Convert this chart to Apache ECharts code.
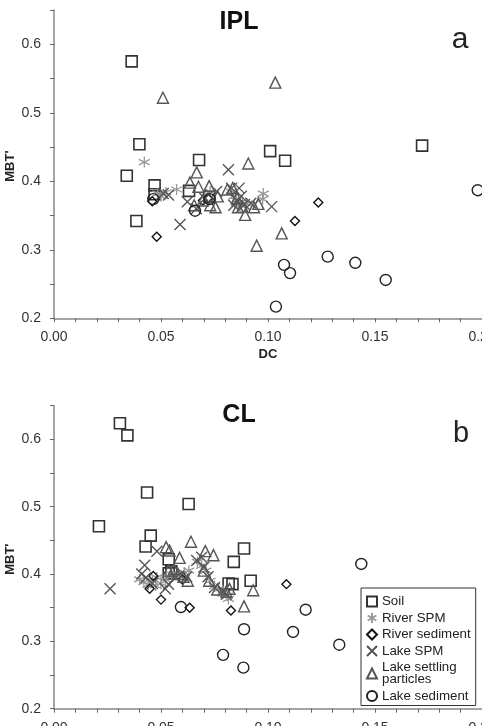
<!DOCTYPE html>
<html><head><meta charset="utf-8">
<script src="https://cdn.jsdelivr.net/npm/echarts@6/dist/echarts.min.js"></script>
<style>html,body{margin:0;padding:0;background:#fff}#c{width:482px;height:726px}</style>
</head><body><div id="c"></div>
<script>
// ---------- data ----------
const seriesNames = ['Soil', 'River SPM', 'River sediment', 'Lake SPM', 'Lake settling\nparticles', 'Lake sediment'];
const panelTitles = ['IPL', 'CL'];
const panelLetters = ['a', 'b'];
const xName = 'DC';
const yName = "MBT'";

// Panel a (IPL): [DC, MBT']
const soilA = [[0.0363,0.575],[0.0399,0.454],[0.034,0.408],[0.0385,0.342],[0.047,0.394],[0.047,0.381],[0.0631,0.386],[0.0678,0.431],[0.0726,0.378],[0.101,0.444],[0.108,0.430],[0.172,0.452]];
const riverSpmA = [[0.0422,0.428],[0.0573,0.388],[0.0978,0.382],[0.0975,0.374],[0.0523,0.384],[0.050,0.378],[0.0485,0.382],[0.073,0.385],[0.084,0.378],[0.085,0.372],[0.086,0.368],[0.087,0.365],[0.083,0.385],[0.088,0.370],[0.090,0.367]];
const riverSedA = [[0.0459,0.371],[0.048,0.319],[0.1126,0.342],[0.1235,0.369],[0.0696,0.372],[0.072,0.375]];
const lakeSpmA = [[0.0815,0.417],[0.0589,0.337],[0.0623,0.370],[0.051,0.382],[0.1017,0.363],[0.0665,0.36],[0.0705,0.375],[0.083,0.39],[0.0865,0.39],[0.0875,0.378],[0.084,0.365],[0.089,0.366],[0.092,0.368],[0.076,0.385],[0.0855,0.372],[0.0535,0.38]];
const lakeSetA = [[0.0509,0.522],[0.1034,0.544],[0.0908,0.426],[0.0667,0.413],[0.0635,0.398],[0.0675,0.392],[0.0725,0.393],[0.0695,0.372],[0.073,0.365],[0.0755,0.362],[0.0765,0.378],[0.081,0.388],[0.0835,0.39],[0.0855,0.375],[0.086,0.362],[0.088,0.363],[0.0893,0.351],[0.0935,0.362],[0.0955,0.367],[0.0947,0.306],[0.1064,0.324],[0.0655,0.365]];
const lakeSedA = [[0.0464,0.374],[0.0659,0.357],[0.0727,0.374],[0.1075,0.278],[0.1103,0.266],[0.1037,0.217],[0.1279,0.290],[0.1408,0.281],[0.155,0.256],[0.198,0.387]];

// Panel b (CL)
const soilB = [[0.0308,0.624],[0.0343,0.606],[0.0435,0.521],[0.0629,0.504],[0.021,0.471],[0.0452,0.457],[0.0428,0.441],[0.0536,0.422],[0.0536,0.401],[0.0888,0.438],[0.084,0.418],[0.0919,0.390],[0.0816,0.386],[0.0834,0.385],[0.0548,0.404]];
const riverSpmB = [[0.040,0.392],[0.042,0.388],[0.044,0.384],[0.046,0.39],[0.048,0.395],[0.050,0.386],[0.052,0.392],[0.055,0.4],[0.058,0.398],[0.061,0.402],[0.063,0.405],[0.067,0.418],[0.069,0.412],[0.071,0.405],[0.073,0.39],[0.075,0.382],[0.077,0.378],[0.079,0.372],[0.081,0.368],[0.0815,0.363],[0.0475,0.383]];
const riverSedB = [[0.0464,0.397],[0.0447,0.378],[0.05,0.362],[0.0634,0.350],[0.0827,0.346],[0.1086,0.385],[0.060,0.392]];
const lakeSpmB = [[0.0262,0.378],[0.0424,0.413],[0.0481,0.434],[0.0667,0.42],[0.041,0.40],[0.043,0.395],[0.046,0.386],[0.052,0.378],[0.0535,0.385],[0.057,0.395],[0.062,0.396],[0.069,0.425],[0.07,0.41],[0.072,0.396],[0.075,0.38],[0.079,0.375],[0.0805,0.37]];
const lakeSetB = [[0.064,0.448],[0.0524,0.44],[0.054,0.435],[0.0587,0.424],[0.0707,0.434],[0.0745,0.428],[0.056,0.407],[0.0625,0.39],[0.058,0.4],[0.0535,0.405],[0.07,0.405],[0.0725,0.39],[0.0763,0.377],[0.0805,0.374],[0.0888,0.352],[0.0931,0.376],[0.082,0.378],[0.0605,0.396]];
const lakeSedB = [[0.0593,0.351],[0.0888,0.318],[0.079,0.280],[0.0885,0.261],[0.1176,0.347],[0.1117,0.314],[0.1333,0.295],[0.1436,0.415]];

const panelData = [
  [soilA, riverSpmA, riverSedA, lakeSpmA, lakeSetA, lakeSedA],
  [soilB, riverSpmB, riverSedB, lakeSpmB, lakeSetB, lakeSedB]
];

// ---------- styles ----------
const styles = [
  {symbol:'rect', size:11, color:'#333', bw:1.6},
  {symbol:'path://M5,0L5,10M0.7,2.5L9.3,7.5M0.7,7.5L9.3,2.5', size:11, color:'#999', bw:1.3},
  {symbol:'path://M5,0L10,5L5,10L0,5Z', size:9, color:'#111', bw:1.4},
  {symbol:'path://M0,0L10,10M10,0L0,10', size:11, color:'#555', bw:1.4},
  {symbol:'triangle', size:11, color:'#555', bw:1.4},
  {symbol:'circle', size:11, color:'#222', bw:1.4}
];

const FONT = '"Liberation Sans", Arial, sans-serif';
const grids = [
  {left:54, top:10, width:428, height:308.3, outerBoundsMode:'none', containLabel:false},
  {left:54, top:405.7, width:428, height:303, outerBoundsMode:'none', containLabel:false}
];

const xAxes = grids.map((g,i)=>({
  type:'value', gridIndex:i, min:0, max:0.2, interval:0.01,
  name: i===0 ? xName : '', nameLocation:'middle', nameGap:30,
  nameTextStyle:{fontFamily:FONT, fontWeight:'bold', fontSize:13, color:'#222'},
  axisLine:{show:true, onZero:false, lineStyle:{color:'#888', width:1.5}},
  axisTick:{show:true, inside:false, length:4, lineStyle:{color:'#666', width:1}},
  splitLine:{show:false},
  axisLabel:{show:true, margin:12, fontFamily:FONT, fontSize:14, color:'#333',
    showMaxLabel:true, showMinLabel:true, hideOverlap:false,
    formatter:v=>{const k=Math.round(v*100);return k%5===0?(k/100).toFixed(2):'';}}
}));
const yAxes = grids.map((g,i)=>({
  type:'value', gridIndex:i, min:0.2, max:0.65, interval:0.05,
  axisLine:{show:true, onZero:false, lineStyle:{color:'#888', width:1.5}},
  axisTick:{show:true, inside:false, length:4, lineStyle:{color:'#666', width:1}},
  splitLine:{show:false},
  axisLabel:{show:true, margin:13, fontFamily:FONT, fontSize:14, color:'#333', hideOverlap:false,
    formatter:v=>{const k=Math.round(v*100);return k%10===0?(k/100).toFixed(1):'';}}
}));

const series = [];
panelData.forEach((sets, p)=>{
  sets.forEach((d, s)=>{
    const st = styles[s];
    series.push({
      type:'scatter', name:seriesNames[s], xAxisIndex:p, yAxisIndex:p,
      data:d, symbol:st.symbol, symbolSize:st.size,
      itemStyle:{color:'rgba(0,0,0,0)', borderColor:st.color, borderWidth:st.bw, opacity:1},
      emphasis:{disabled:true}, silent:true
    });
  });
});

const yNameGraphics = grids.map(g=>({
  type:'text', x:10, y:g.top + g.height/2 + 2, rotation:Math.PI/2,
  style:{text:yName, font:'bold 13px '+FONT, fill:'#222', textAlign:'center', textVerticalAlign:'middle'}
}));

const chart = echarts.init(document.getElementById('c'), null, {renderer:'canvas'});
chart.setOption({
  animation:false,
  backgroundColor:'#fff',
  grid: grids,
  xAxis: xAxes,
  yAxis: yAxes,
  legend:{
    data: seriesNames, orient:'vertical', left:361, top:588,
    padding:[7,5,3,5], itemGap:3.5, itemWidth:10, itemHeight:10,
    borderColor:'#333', borderWidth:1, selectedMode:false,
    textStyle:{fontFamily:FONT, fontSize:13.3, color:'#222', lineHeight:12},
    itemStyle:{color:'rgba(0,0,0,0)'}
  },
  graphic:[
    {type:'text', x:239, y:22, style:{text:panelTitles[0], font:'bold 25px '+FONT, fill:'#111', textAlign:'center', textVerticalAlign:'middle'}},
    {type:'text', x:239, y:415, style:{text:panelTitles[1], font:'bold 25px '+FONT, fill:'#111', textAlign:'center', textVerticalAlign:'middle'}},
    {type:'text', x:460, y:40, style:{text:panelLetters[0], font:'30px '+FONT, fill:'#222', textAlign:'center', textVerticalAlign:'middle'}},
    {type:'text', x:461, y:434, style:{text:panelLetters[1], font:'29px '+FONT, fill:'#222', textAlign:'center', textVerticalAlign:'middle'}}
  ].concat(yNameGraphics),
  series: series
});
</script></body></html>
